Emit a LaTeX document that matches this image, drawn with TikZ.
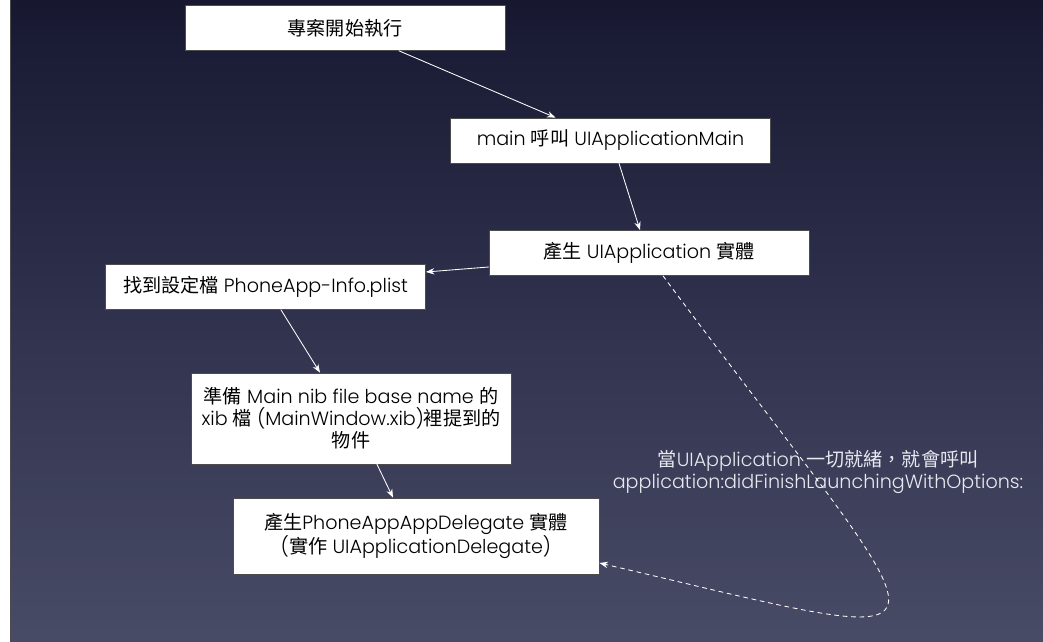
\documentclass[tikz,border=0pt]{standalone}
\usepackage{fontspec}
\setmainfont{Poppins Light}
\newfontfamily\cjk{Noto Sans CJK TC}
\usetikzlibrary{arrows.meta,calc}

\newcommand\zh[1]{{\cjk #1}}

\definecolor{bgtop}{RGB}{0,0,0}
\definecolor{bgdark}{RGB}{10,10,28}
\definecolor{bgnavy}{RGB}{26,27,52}
\definecolor{bgmid}{RGB}{50,52,80}
\definecolor{bgbot}{RGB}{98,101,126}
\definecolor{notecol}{RGB}{232,232,240}

\pgfdeclareverticalshading{slidebg}{100bp}{color(0bp)=(bgbot); color(48bp)=(bgmid); color(72bp)=(bgnavy); color(88bp)=(bgdark); color(100bp)=(bgtop)}

\tikzset{
  stepbox/.style={draw=black!70, fill=white, line width=0.5pt,
    minimum width=8cm, minimum height=1.125cm, inner sep=2pt,
    align=center, font=\fontsize{13.6}{15.6}\selectfont},
  flow/.style={draw=white, line width=0.6pt, ->},
}

\begin{document}
\begin{tikzpicture}[x=0.025cm,y=-0.025cm,line cap=round,line join=round,
  >={Stealth[length=6pt,width=4.5pt]}]
  \useasboundingbox (0,0) rectangle (1043,642);
  \fill[white] (0,0) rectangle (10,642);
  \shade[shading=slidebg] (10,0) rectangle (1043,642);
  \draw[black!70,line width=0.8pt] (10.5,0) -- (10.5,642);

  \node[stepbox] (start) at (345,28) {\zh{專案開始執行}};
  \node[stepbox] (callmain) at (610.5,140.5) {main \zh{呼叫} UIApplicationMain};
  \node[stepbox] (makeapp) at (649,253) {\zh{產生} UIApplication \zh{實體}};
  \node[stepbox] (plist) at (265.5,287) {\zh{找到設定檔} PhoneApp-Info.plist};
  \node[stepbox,minimum height=2.275cm] (nib) at (351,418.5)
    {\zh{準備} Main nib file base name \zh{的}\\xib \zh{檔} (MainWindow.xib)\zh{裡提到的}\\\zh{物件}};
  \node[stepbox,minimum width=9.15cm,minimum height=1.9cm] (delegate) at (416,536)
    {\zh{產生}PhoneAppAppDelegate \zh{實體}\\(\zh{實作} UIApplicationDelegate)};
  \node[align=center,text=notecol,font=\fontsize{13.6}{15.6}\selectfont] (note) at (818,472)
    {\zh{當}UIApplication \zh{一切就緒，就會呼叫}\\application:didFinishLaunchingWithOptions:};

  \draw[flow] ($(start.south)+(54,0)$) -- ($(callmain.north)+(-55,0)$);
  \draw[flow] ($(callmain.south)+(8.5,0)$) -- ($(makeapp.north)+(-9,0)$);
  \draw[flow] ($(makeapp.west)+(0,14)$) -- ($(plist.east)+(0,-15)$);
  \draw[flow] ($(plist.south)+(15.5,0)$) -- ($(nib.north)+(-31,0)$);
  \draw[flow] ($(nib.south)+(26,0)$) -- ($(delegate.north)+(-23,0)$);
  \draw[flow,dashed] ($(makeapp.south)+(14,0)$) .. controls (955,668) and (992,655) .. ($(delegate.east)+(0,27)$);
\end{tikzpicture}
\end{document}
